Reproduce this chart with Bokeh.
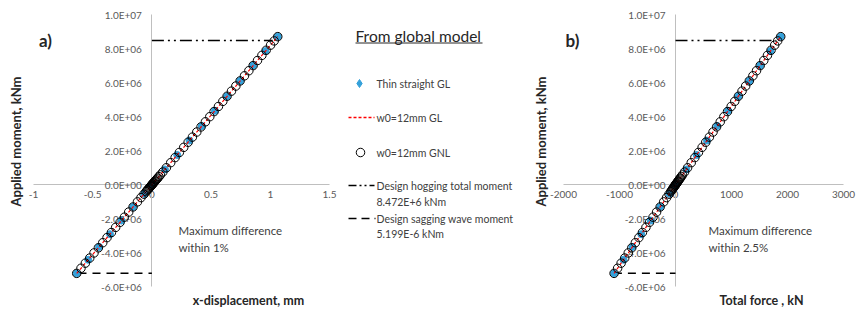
from math import pi
from bokeh.plotting import figure
from bokeh.layouts import row
from bokeh.models import LinearAxis, FixedTicker, CustomJSTickFormatter, Range1d, Label
from bokeh.core.properties import value
from bokeh.embed import file_html
from bokeh.resources import INLINE

# ---------------- data ----------------
# w0=12mm GNL (open circles)
gnl_moment = [-5.20e6, -4.90e6, -4.60e6, -4.30e6, -4.00e6, -3.70e6, -3.40e6, -3.10e6, -2.80e6, -2.50e6,
              -2.20e6, -1.90e6, -1.60e6, -1.30e6, -1.00e6, -0.75e6, -0.55e6, -0.40e6, -0.32e6, -0.26e6,
              -0.20e6, -0.15e6, -0.10e6, -0.06e6, -0.03e6, 0.0, 0.03e6, 0.06e6, 0.10e6, 0.14e6,
              0.18e6, 0.23e6, 0.28e6, 0.34e6, 0.40e6, 0.48e6, 0.58e6, 0.75e6, 1.00e6, 1.30e6,
              1.60e6, 1.90e6, 2.20e6, 2.50e6, 2.80e6, 3.10e6, 3.40e6, 3.70e6, 4.00e6, 4.30e6,
              4.60e6, 4.90e6, 5.20e6, 5.50e6, 5.80e6, 6.10e6, 6.40e6, 6.70e6, 7.00e6, 7.30e6,
              7.60e6, 7.90e6, 8.20e6, 8.45e6, 8.70e6]
gnl_disp = [-0.635, -0.599, -0.562, -0.525, -0.489, -0.452, -0.415, -0.379, -0.342, -0.306,
            -0.269, -0.232, -0.196, -0.159, -0.122, -0.092, -0.067, -0.049, -0.039, -0.032,
            -0.024, -0.018, -0.012, -0.007, -0.004, 0.000, 0.004, 0.007, 0.012, 0.017,
            0.022, 0.028, 0.034, 0.042, 0.049, 0.059, 0.071, 0.092, 0.122, 0.159,
            0.196, 0.232, 0.269, 0.306, 0.342, 0.379, 0.415, 0.452, 0.489, 0.525,
            0.562, 0.599, 0.635, 0.672, 0.709, 0.745, 0.782, 0.819, 0.855, 0.892,
            0.929, 0.965, 1.002, 1.033, 1.063]
gnl_force = [-1097, -1034, -971, -907, -844, -781, -717, -654, -591, -528,
             -464, -401, -338, -274, -211, -158, -116, -84, -68, -55,
             -42, -32, -21, -13, -6, 0, 6, 13, 22, 30,
             39, 50, 60, 73, 86, 104, 125, 162, 216, 281,
             346, 410, 475, 540, 605, 670, 734, 799, 864, 929,
             994, 1058, 1123, 1188, 1253, 1318, 1382, 1447, 1512, 1577,
             1642, 1706, 1771, 1825, 1879]

# Thin straight GL (blue markers)
thin_moment = [-5.20e6, -4.40e6, -3.65e6, -2.90e6, -2.10e6, -1.30e6, -0.53e6, 0.0, 0.90e6,
               1.75e6, 2.60e6, 3.45e6, 4.35e6, 5.20e6, 6.10e6, 7.00e6, 7.85e6, 8.70e6]
thin_disp = [-0.635, -0.538, -0.446, -0.354, -0.257, -0.159, -0.065, 0.0, 0.110,
             0.214, 0.318, 0.422, 0.532, 0.635, 0.745, 0.855, 0.959, 1.063]
thin_force = [-1097, -928, -770, -612, -443, -274, -112, 0, 194,
              378, 562, 745, 940, 1123, 1318, 1512, 1696, 1879]

# w0=12mm GL (red dashed line)
gl_moment = [-5.20e6, -3.90e6, -2.60e6, -1.30e6, 0.0, 1.45e6, 2.90e6, 4.35e6, 5.80e6, 7.25e6, 8.70e6]
gl_disp = [-0.635, -0.477, -0.318, -0.159, 0.0, 0.177, 0.354, 0.532, 0.709, 0.886, 1.063]
gl_force = [-1097, -823, -549, -274, 0, 313, 626, 940, 1253, 1566, 1879]

# design moments
hog_moment = [8.472e6, 8.472e6]
hog_disp = [0.0, 1.02]
hog_force = [0, 1800]
sag_moment = [-5.199e6, -5.199e6]
sag_disp = [-0.62, 0.0]
sag_force = [-1100, 0]

# axes
y_ticks = [-6e6, -4e6, -2e6, 0.0, 2e6, 4e6, 6e6, 8e6, 1e7]
y_labels = ["-6.0E+06", "-4.0E+06", "-2.0E+06", "0.0E+00", "2.0E+06", "4.0E+06", "6.0E+06", "8.0E+06", "1.0E+07"]
disp_ticks = [-1.0, -0.5, 0.0, 0.5, 1.0, 1.5]
disp_labels = ["-1", "-0.5", "0", "0.5", "1", "1.5"]
force_ticks = [-2000, -1000, 0, 1000, 2000, 3000]
force_labels = ["-2000", "-1000", "0", "1000", "2000", "3000"]

legend_title = "From global model"
legend_labels = ["Thin straight GL", "w0=12mm GL", "w0=12mm GNL",
                 "Design hogging total moment", "8.472E+6 kNm",
                 "Design sagging wave moment", "5.199E-6 kNm"]

# ---------------- styling ----------------
FONT = "Lato"
H = 310
PXM = 17.03  # pixels per 1e6 kNm
Y1 = 1e7 + 14 / PXM * 1e6
Y0 = -6e6 - (H - 286.5) / PXM * 1e6
BLUE = "#35A1DA"
TXT = "#404040"
AXC = "#BFBFBF"


def fmt(tick_vals, tick_texts):
    return CustomJSTickFormatter(args=dict(tv=tick_vals, tl=tick_texts), code="""
const i = tv.findIndex(t => Math.abs(t - tick) <= 1e-9 * Math.max(1, Math.abs(t)));
return i >= 0 ? tl[i] : "";
""")


def style_axis(ax):
    ax.axis_line_color = AXC
    ax.axis_line_width = 1
    ax.major_tick_line_color = None
    ax.minor_tick_line_color = None
    ax.major_tick_out = 0
    ax.major_tick_in = 0
    ax.major_label_text_font = FONT
    ax.major_label_text_font_size = "10px"
    ax.major_label_text_color = "#595959"
    ax.level = "underlay"


def panel(width, xs, xe, xticks, xlabels, xdata_gnl, xdata_thin, xdata_gl, xhog, xsag,
          letter, letter_px, ytitle_px, xtitle, xtitle_px, note, note_px):
    p = figure(width=width, height=H, x_range=Range1d(xs, xe), y_range=Range1d(Y0, Y1),
               output_backend="svg", toolbar_location=None,
               x_axis_location=None, y_axis_location=None, min_border=0)
    p.outline_line_color = None
    p.xgrid.visible = False
    p.ygrid.visible = False

    def px(fx, fy):
        return xs + fx * (xe - xs) / width, Y1 - fy * (Y1 - Y0) / H

    yax = LinearAxis(fixed_location=0, bounds=(y_ticks[0], y_ticks[-1]),
                     ticker=FixedTicker(ticks=y_ticks), formatter=fmt(y_ticks, y_labels))
    style_axis(yax)
    yax.major_label_standoff = 10
    p.add_layout(yax, "left")
    xax = LinearAxis(fixed_location=0, bounds=(xticks[0], xticks[-1]),
                     ticker=FixedTicker(ticks=xticks), formatter=fmt(xticks, xlabels))
    style_axis(xax)
    xax.major_label_standoff = 6
    p.add_layout(xax, "below")

    p.line(xhog, hog_moment, line_color="black", line_width=1.5, line_dash="12 4 2 4 2 4")
    p.line(xsag, sag_moment, line_color="black", line_width=1.5, line_dash="8 6")
    p.scatter(xdata_thin, thin_moment, marker="circle", size=7, fill_color=BLUE, line_color=BLUE)
    p.line(xdata_gl, gl_moment, line_color="#FF0000", line_width=1.2, line_dash="3 2")
    p.scatter(xdata_gnl, gnl_moment, marker="circle", size=8.5, fill_color=None,
              line_color="black", line_width=1.0)

    lx, ly = px(*letter_px)
    p.add_layout(Label(x=lx, y=ly, text=letter, text_font=FONT, text_font_style="bold",
                       text_font_size="17px", text_color="#262626",
                       text_align="center", text_baseline="middle"))
    tx, ty = px(*ytitle_px)
    p.add_layout(Label(x=tx, y=ty, text="Applied moment, kNm", angle=pi / 2,
                       text_font=FONT, text_font_style="bold", text_font_size="13px",
                       text_color="#262626", text_align="center", text_baseline="middle"))
    bx, by = px(*xtitle_px)
    p.add_layout(Label(x=bx, y=by, text=xtitle, text_font=FONT, text_font_style="bold",
                       text_font_size="12.5px", text_color="#262626",
                       text_align="center", text_baseline="middle"))
    nx, ny = px(*note_px)
    p.add_layout(Label(x=nx, y=ny, text=note, text_font=FONT, text_font_size="11.5px",
                       text_color=TXT, text_align="left", text_baseline="top",
                       text_line_height=1.35))
    return p


W1, W2, W3 = 338, 192, 326
p1 = panel(W1, -1 - 33 / 118.4, 1.5 + (W1 - 329) / 118.4, disp_ticks, disp_labels,
           gnl_disp, thin_disp, gl_disp, hog_disp, sag_disp,
           "a)", (45, 40), (15, 141), "x-displacement, mm", (248, 300),
           "Maximum difference\nwithin 1%", (178, 223))
p2 = panel(W3, -2000 - 33 / 0.056, 3000 + (W3 - 313) / 0.056, force_ticks, force_labels,
           gnl_force, thin_force, gl_force, hog_force, sag_force,
           "b)", (42, 40), (10, 141), "Total force , kN", (231, 300),
           "Maximum difference\nwithin 2.5%", (178, 223))

# ---------------- legend panel ----------------
pl = figure(width=W2, height=H, x_range=Range1d(0, W2), y_range=Range1d(H, 0),
            output_backend="svg", toolbar_location=None,
            x_axis_location=None, y_axis_location=None, min_border=0)
pl.outline_line_color = None
pl.xgrid.visible = False
pl.ygrid.visible = False

pl.text(x=[17], y=[35], text=[legend_title], text_font=value(FONT), text_font_size="15.5px",
        text_color="#262626", text_baseline="middle", text_align="left")
pl.line([17, 144], [42.5, 42.5], line_color="#262626", line_width=1)

pl.scatter([21], [83], marker="diamond", size=8, fill_color=BLUE, line_color=BLUE)
pl.line([10, 36], [117, 117], line_color="#FF0000", line_width=1.5, line_dash="3 2")
pl.scatter([22], [152], marker="circle", size=8.5, fill_color=None, line_color="black", line_width=1.0)
pl.line([10, 36], [185, 185], line_color="black", line_width=1.5, line_dash="8 3 2 3 2 3")
pl.line([10, 37], [218, 218], line_color="black", line_width=1.5, line_dash="8 5")

pl.text(x=[38] * 7, y=[83, 117, 152, 185, 201, 218, 233], text=legend_labels,
        text_font=value(FONT), text_font_size="10.5px", text_color=TXT,
        text_baseline="middle", text_align="left")

layout = row(p1, pl, p2)
open("out.html", "w").write(file_html(layout, INLINE))
